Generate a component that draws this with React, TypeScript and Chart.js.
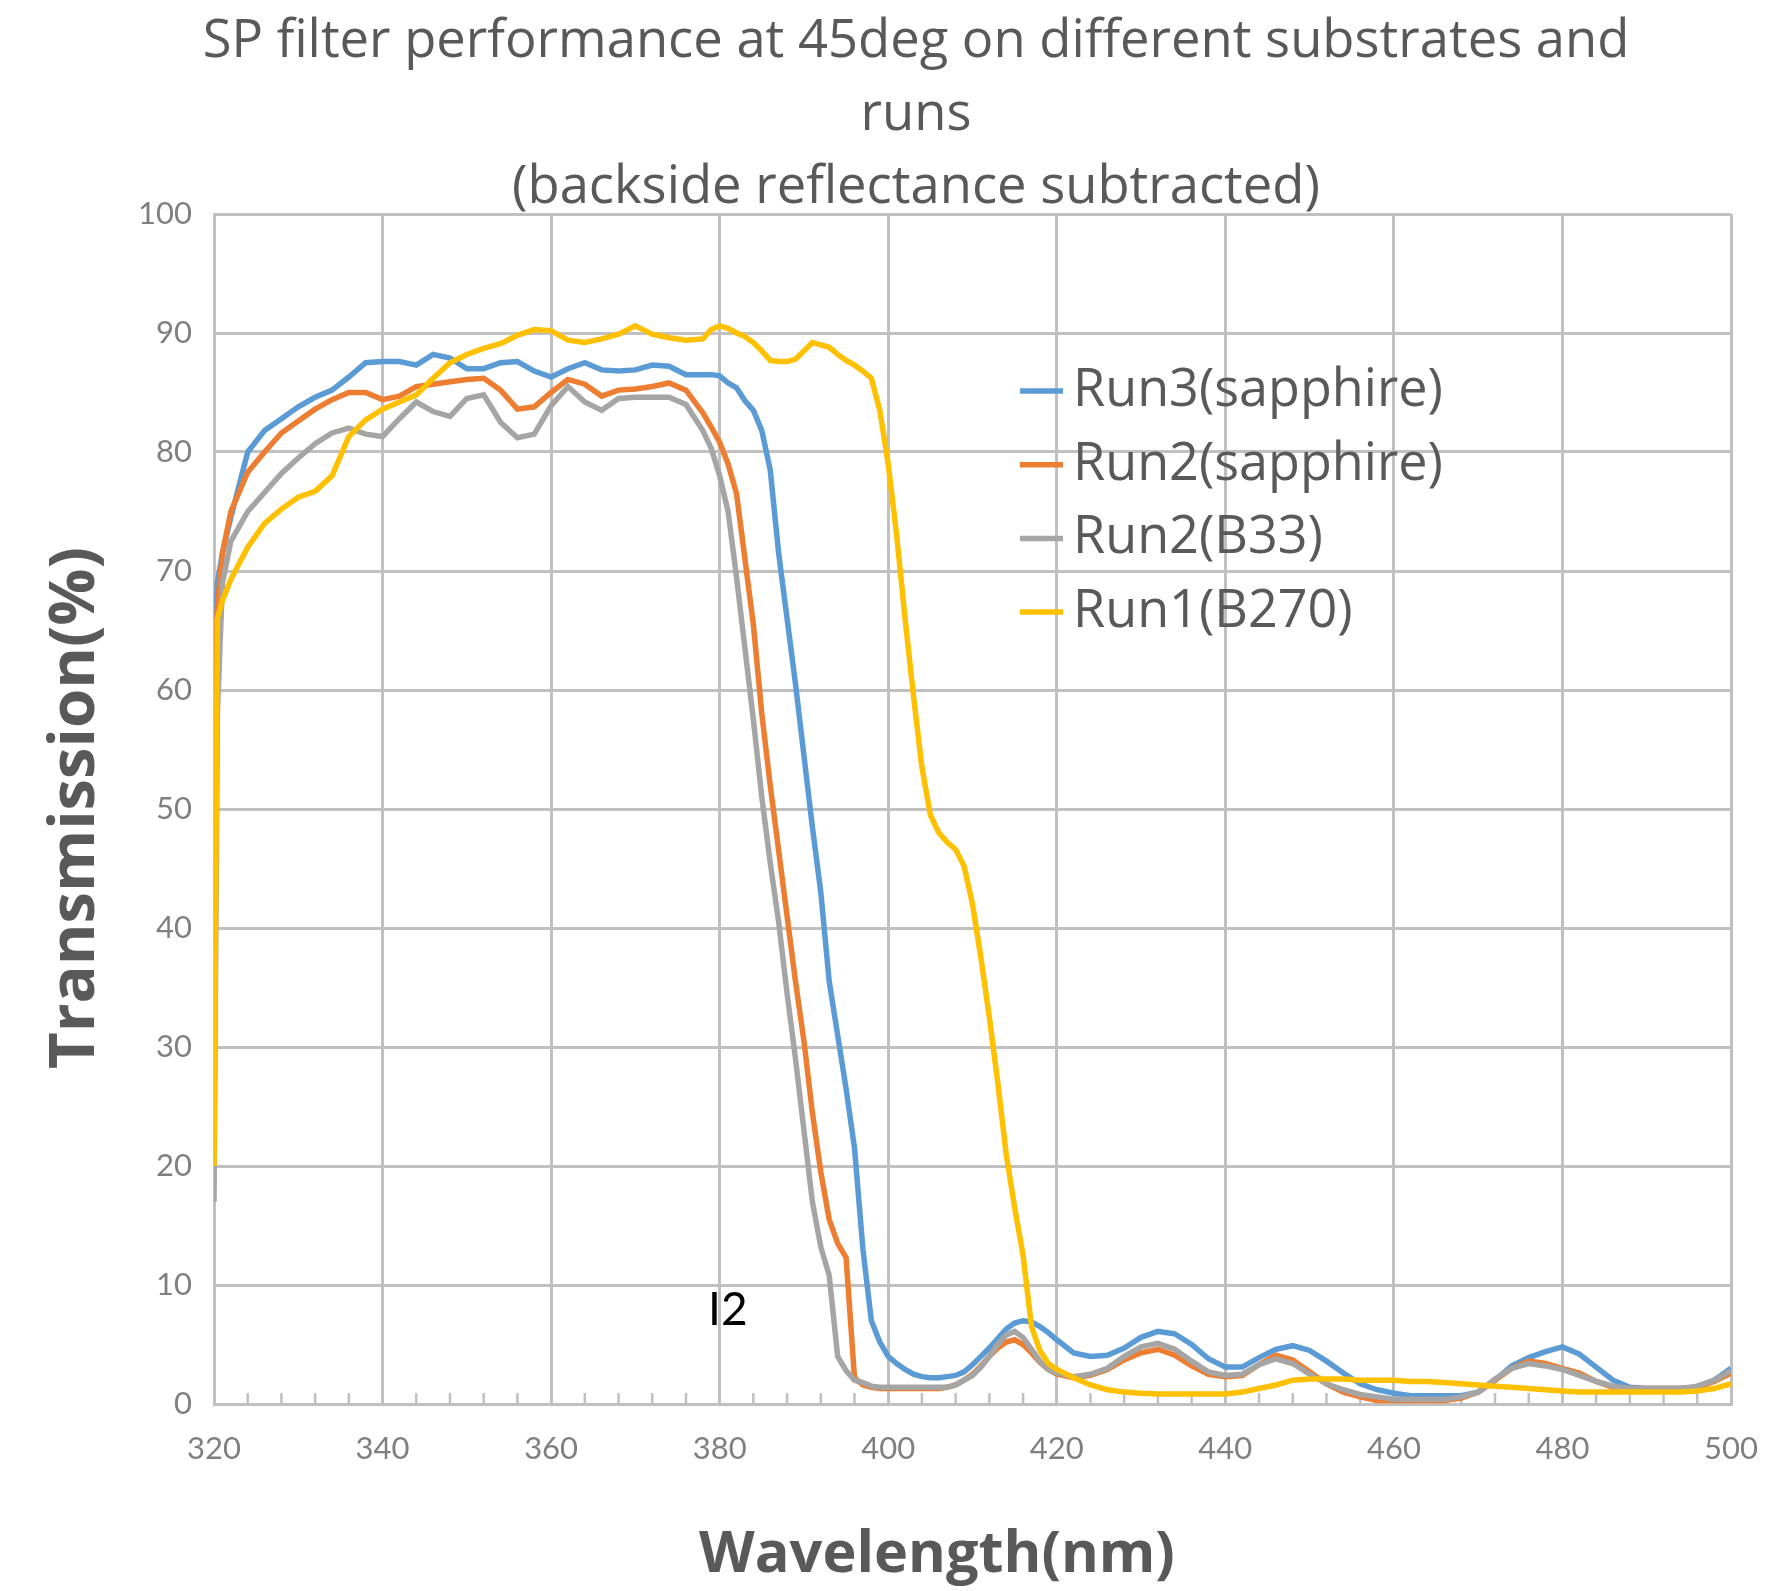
import React, { useEffect, useRef } from "react";
import { Chart, registerables } from "chart.js";

Chart.register(...registerables);

// ---------------- data ----------------
const wavelengths = [
  320, 320.4, 321,
  322, 324, 326, 328, 330, 332, 334, 336, 338, 340,
  342, 344, 346, 348, 350, 352, 354, 356, 358, 360,
  362, 364, 366, 368, 370, 372, 374, 376, 378,
  379, 380, 381, 382, 383, 384, 385, 386, 387, 388, 389, 390,
  391, 392, 393, 394, 395, 396, 397, 398, 399, 400,
  401, 402, 403, 404, 405, 406, 407, 408, 409, 410,
  411, 412, 413, 414, 415, 416, 417, 418, 419, 420,
  422, 424, 426, 428, 430, 432, 434, 436, 438, 440,
  442, 444, 446, 448, 450, 452, 454, 456, 458, 460,
  462, 464, 466, 468, 470, 472, 474, 476, 478, 480,
  482, 484, 486, 488, 490, 492, 494, 496, 498, 500,
];

const run3Sapphire = [
  62, 69, 71.5,
  74.5, 80, 81.8, 82.8, 83.8, 84.6, 85.2, 86.3, 87.5, 87.6,
  87.6, 87.3, 88.2, 87.9, 87.0, 87.0, 87.5, 87.6, 86.8, 86.3,
  87.0, 87.5, 86.9, 86.8, 86.9, 87.3, 87.2, 86.5, 86.5,
  86.5, 86.4, 85.8, 85.4, 84.3, 83.5, 81.8, 78.5, 71.5, 66, 60.5, 54.5,
  48.5, 43, 35.5, 31, 26.5, 21.5, 13, 7, 5.2, 4.0,
  3.4, 2.9, 2.5, 2.3, 2.2, 2.2, 2.3, 2.4, 2.7, 3.3,
  4.0, 4.7, 5.5, 6.3, 6.8, 7.0, 6.9, 6.5, 6.0, 5.4,
  4.3, 4.0, 4.1, 4.7, 5.6, 6.1, 5.9, 5.0, 3.8, 3.1,
  3.1, 3.9, 4.6, 4.9, 4.5, 3.6, 2.6, 1.7, 1.2, 0.9,
  0.7, 0.7, 0.7, 0.7, 1.0, 2.0, 3.2, 3.9, 4.4, 4.8,
  4.2, 3.1, 2.0, 1.4, 1.3, 1.3, 1.3, 1.4, 2.0, 3.0,
];

const run2Sapphire = [
  60, 67, 71.5,
  75, 78.3, 80, 81.6, 82.6, 83.6, 84.4, 85.0, 85.0, 84.4,
  84.7, 85.5, 85.7, 85.9, 86.1, 86.2, 85.2, 83.6, 83.8, 85.0,
  86.1, 85.7, 84.7, 85.2, 85.3, 85.5, 85.8, 85.2, 83.3,
  82.1, 80.8, 79, 76.5, 71, 65.5, 58, 52, 46.5, 41, 35.5, 30.5,
  24.5, 19.5, 15.5, 13.5, 12.3, 2.2, 1.6, 1.4, 1.3, 1.3,
  1.3, 1.3, 1.3, 1.3, 1.3, 1.3, 1.4, 1.6, 2.0, 2.5,
  3.2, 4.0, 4.7, 5.2, 5.4, 5.0, 4.3, 3.5, 2.9, 2.5,
  2.2, 2.4, 2.9, 3.7, 4.3, 4.6, 4.1, 3.2, 2.5, 2.3,
  2.4, 3.3, 4.1, 3.7, 2.7, 1.7, 1.0, 0.6, 0.3, 0.3,
  0.3, 0.3, 0.3, 0.5, 1.0, 2.0, 3.0, 3.6, 3.4, 3.0,
  2.6, 1.9, 1.4, 1.3, 1.3, 1.3, 1.3, 1.4, 1.9, 2.6,
];

const run2B33 = [
  17, 58, 69,
  72.5, 75, 76.6, 78.2, 79.5, 80.7, 81.6, 82.0, 81.5, 81.3,
  82.8, 84.2, 83.4, 83.0, 84.5, 84.8, 82.5, 81.2, 81.5, 83.9,
  85.5, 84.2, 83.5, 84.5, 84.6, 84.6, 84.6, 84.0, 81.8,
  80.3, 78, 75, 69.5, 63.5, 57.5, 51, 45.5, 40.5, 34.5, 29, 23,
  17, 13.2, 10.8, 4.0, 2.8, 2.0, 1.8, 1.5, 1.4, 1.4,
  1.4, 1.4, 1.4, 1.4, 1.4, 1.4, 1.4, 1.6, 2.0, 2.4,
  3.1, 4.0, 5.0, 5.8, 6.1, 5.6, 4.6, 3.6, 2.9, 2.6,
  2.3, 2.5, 3.0, 4.0, 4.8, 5.1, 4.6, 3.6, 2.7, 2.4,
  2.5, 3.3, 3.8, 3.4, 2.5, 1.7, 1.2, 0.8, 0.6, 0.4,
  0.4, 0.4, 0.4, 0.6, 1.0, 2.1, 3.0, 3.4, 3.2, 2.9,
  2.4, 1.9, 1.5, 1.3, 1.3, 1.3, 1.3, 1.5, 2.0, 2.8,
];

const run1B270 = [
  20, 66, 67.5,
  69.3, 72, 74, 75.2, 76.2, 76.7, 78, 81.3, 82.7, 83.6,
  84.2, 84.8, 86.2, 87.5, 88.2, 88.7, 89.1, 89.8, 90.3, 90.2,
  89.4, 89.2, 89.5, 89.9, 90.6, 89.9, 89.6, 89.4, 89.5,
  90.3, 90.6, 90.4, 90.0, 89.7, 89.2, 88.5, 87.7, 87.6, 87.6, 87.8, 88.5,
  89.2, 89.0, 88.8, 88.2, 87.7, 87.3, 86.8, 86.2, 83.5, 79,
  73, 66, 59.5, 53.5, 49.5, 48.0, 47.2, 46.6, 45.2, 42.0,
  37.5, 32.5, 27, 21, 16.5, 12.5, 6.5, 4.5, 3.4, 2.9,
  2.2, 1.6, 1.2, 1.0, 0.9, 0.85, 0.85, 0.85, 0.85, 0.85,
  1.0, 1.3, 1.6, 2.0, 2.1, 2.1, 2.1, 2.0, 2.0, 2.0,
  1.9, 1.9, 1.8, 1.7, 1.6, 1.5, 1.4, 1.3, 1.2, 1.1,
  1.0, 1.0, 1.0, 1.0, 1.0, 1.0, 1.0, 1.1, 1.3, 1.7,
];

const seriesLabels = ["Run3(sapphire)", "Run2(sapphire)", "Run2(B33)", "Run1(B270)"];
const seriesValues = [run3Sapphire, run2Sapphire, run2B33, run1B270];
const seriesColors = ["#5B9BD5", "#ED7D31", "#A5A5A5", "#FFC000"];

const titleLines = [
  "SP filter performance at 45deg on different substrates and",
  "runs",
  "(backside reflectance subtracted)",
];
const xAxisTitle = "Wavelength(nm)";
const yAxisTitle = "Transmission(%)";
const strayLabel = "I2";

const xMin = 320;
const xMax = 500;
const xStep = 20;
const xMinorStep = 4;
const yMin = 0;
const yMax = 100;
const yStep = 10;

// ---------------- style ----------------
const TICK_FONT = "Lato, 'Open Sans', sans-serif";
const TEXT_FONT = "'Open Sans', Lato, sans-serif";
const TEXT_DARK = "#595959";
const TICK_COLOR = "#7f7f7f";
const GRID_COLOR = "#c0c0c0";

function fitSize(ctx: CanvasRenderingContext2D, text: string, weight: string, family: string, target: number) {
  ctx.font = `${weight} 100px ${family}`;
  const w = ctx.measureText(text).width;
  return (100 * target) / w;
}

const decorPlugin = {
  id: "decor",
  beforeDatasetsDraw(chart: any) {
    const { ctx, chartArea, scales } = chart;
    const xs = scales.x;
    ctx.save();
    ctx.strokeStyle = GRID_COLOR;
    ctx.lineWidth = 2.5;
    ctx.beginPath();
    for (let v = xMin + xMinorStep; v < xMax; v += xMinorStep) {
      if ((v - xMin) % xStep === 0) continue;
      const px = xs.getPixelForValue(v);
      ctx.moveTo(px, chartArea.bottom);
      ctx.lineTo(px, chartArea.bottom - 11);
    }
    ctx.stroke();
    ctx.restore();
  },
  afterDraw(chart: any) {
    const { ctx, chartArea } = chart;
    ctx.save();
    // title
    ctx.fillStyle = TEXT_DARK;
    ctx.textAlign = "center";
    ctx.textBaseline = "alphabetic";
    const titleSize = fitSize(ctx, titleLines[0], "normal", TEXT_FONT, 1427);
    ctx.font = `${titleSize}px ${TEXT_FONT}`;
    const titleBaselines = [57, 130, 203];
    titleLines.forEach((t, i) => ctx.fillText(t, 916, titleBaselines[i]));

    // x axis title
    const xtSize = fitSize(ctx, xAxisTitle, "bold", TEXT_FONT, 476);
    ctx.font = `bold ${xtSize}px ${TEXT_FONT}`;
    ctx.textBaseline = "middle";
    ctx.fillText(xAxisTitle, 937, 1556);

    // y axis title
    const ytSize = fitSize(ctx, yAxisTitle, "bold", TEXT_FONT, 522);
    ctx.font = `bold ${ytSize}px ${TEXT_FONT}`;
    ctx.save();
    ctx.translate(76, 808);
    ctx.rotate(-Math.PI / 2);
    ctx.fillText(yAxisTitle, 0, 0);
    ctx.restore();

    // legend
    const legendTop = 391;
    const legendGap = 73.7;
    const legendSize = fitSize(ctx, seriesLabels[0], "normal", TEXT_FONT, 370);
    ctx.font = `${legendSize}px ${TEXT_FONT}`;
    ctx.textAlign = "left";
    ctx.textBaseline = "middle";
    seriesLabels.forEach((label, i) => {
      const y = legendTop + i * legendGap;
      ctx.strokeStyle = seriesColors[i];
      ctx.lineWidth = 5.5;
      ctx.beginPath();
      ctx.moveTo(1020, y);
      ctx.lineTo(1063, y);
      ctx.stroke();
      ctx.fillStyle = TEXT_DARK;
      ctx.fillText(label, 1073, y);
    });

    // stray label
    ctx.fillStyle = "#000000";
    ctx.font = `46px ${TICK_FONT}`;
    ctx.textBaseline = "alphabetic";
    ctx.fillText(strayLabel, 708, 1325);
    ctx.restore();
  },
};

export default function App() {
  const canvasRef = useRef<HTMLCanvasElement | null>(null);

  useEffect(() => {
    const canvas = canvasRef.current;
    if (!canvas) return;
    const datasets = seriesLabels.map((label, i) => ({
      label,
      data: wavelengths.map((w, j) => ({ x: w, y: seriesValues[i][j] })),
      borderColor: seriesColors[i],
      backgroundColor: seriesColors[i],
      borderWidth: 5.5,
      pointRadius: 0,
      tension: 0,
      fill: false,
      order: seriesLabels.length - i,
    }));

    const chart = new Chart(canvas, {
      type: "line",
      data: { datasets },
      plugins: [decorPlugin],
      options: {
        animation: false,
        responsive: false,
        devicePixelRatio: 1,
        layout: { padding: { left: 0, top: 214, right: 37, bottom: 0 } },
        plugins: {
          legend: { display: false },
          title: { display: false },
          tooltip: { enabled: false },
        },
        scales: {
          x: {
            type: "linear",
            min: xMin,
            max: xMax,
            afterFit: (s: any) => {
              s.height = 187;
              s.paddingLeft = 0;
              s.paddingRight = 0;
            },
            ticks: {
              stepSize: xStep,
              autoSkip: false,
              maxRotation: 0,
              padding: 26,
              color: TICK_COLOR,
              font: { family: TICK_FONT, size: 31 },
            },
            grid: { color: GRID_COLOR, lineWidth: 3, drawTicks: false },
            border: { display: true, color: GRID_COLOR, width: 3 },
          },
          y: {
            type: "linear",
            min: yMin,
            max: yMax,
            afterFit: (s: any) => {
              s.width = 214;
              s.paddingTop = 0;
              s.paddingBottom = 0;
            },
            ticks: {
              stepSize: yStep,
              padding: 22,
              color: TICK_COLOR,
              font: { family: TICK_FONT, size: 31 },
            },
            grid: { color: GRID_COLOR, lineWidth: 3, drawTicks: false },
            border: { display: true, color: GRID_COLOR, width: 3 },
          },
        },
      },
    });
    return () => chart.destroy();
  }, []);

  return (
    <div style={{ position: "absolute", left: 0, top: 0, width: 1768, height: 1591, background: "#ffffff" }}>
      <canvas ref={canvasRef} width={1768} height={1591} style={{ display: "block", width: 1768, height: 1591 }} />
    </div>
  );
}
